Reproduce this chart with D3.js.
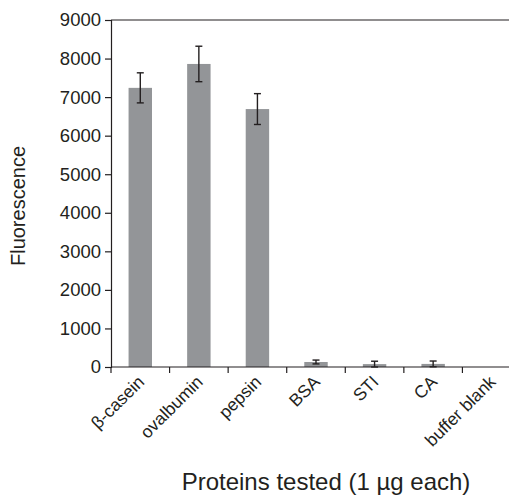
<!DOCTYPE html>
<html><head><meta charset="utf-8">
<script src="https://cdn.jsdelivr.net/npm/d3@7"></script>
<style>body{margin:0;background:#fff;} svg{display:block;}</style>
</head><body>
<svg id="c" width="509" height="495"></svg>
<script>
const categories = ["β-casein","ovalbumin","pepsin","BSA","STI","CA","buffer blank"];
const values = [7240, 7860, 6690, 130, 75, 80, 0];
const errors = [390, 460, 400, 50, 75, 75, 0];
const yTicks = [0,1000,2000,3000,4000,5000,6000,7000,8000,9000];

(function(){
const svg = d3.select("#c");
const mLeft = 111, mRight = 521, mTop = 20, mBottom = 367;
const font = "'Liberation Sans', Arial, Helvetica, sans-serif";

const x = d3.scaleBand().domain(categories).range([mLeft, mRight]).paddingInner(0.6).paddingOuter(0.3);
const y = d3.scaleLinear().domain([0, 9000]).range([mBottom, mTop]);

svg.append("line").attr("x1", mLeft).attr("x2", 509).attr("y1", y(9000)).attr("y2", y(9000))
  .attr("stroke", "#231f20").attr("stroke-width", 1.2);

svg.selectAll("rect.bar").data(categories).enter().append("rect")
  .attr("x", d => x(d)).attr("width", x.bandwidth())
  .attr("y", (d,i) => y(values[i])).attr("height", (d,i) => mBottom - y(values[i]))
  .attr("fill", "#939598");

const eb = svg.append("g").attr("stroke", "#231f20").attr("stroke-width", 1.4);
categories.forEach((c,i) => {
  if (errors[i] <= 0) return;
  const cx = x(c) + x.bandwidth()/2;
  eb.append("line").attr("x1", cx).attr("x2", cx).attr("y1", y(values[i]+errors[i])).attr("y2", y(values[i]-errors[i]));
  [values[i]+errors[i], values[i]-errors[i]].forEach(v => {
    eb.append("line").attr("x1", cx-3.5).attr("x2", cx+3.5).attr("y1", y(v)).attr("y2", y(v));
  });
});

const ya = svg.append("g").attr("transform", `translate(${mLeft},0)`)
  .call(d3.axisLeft(y).tickValues(yTicks).tickSize(6).tickPadding(4).tickFormat(d3.format("d")));
ya.select(".domain").attr("stroke", "#231f20").attr("stroke-width", 1.2);
ya.selectAll(".tick line").attr("stroke", "#231f20").attr("stroke-width", 1.2);
ya.selectAll(".tick text").attr("font-family", font).attr("font-size", 18.5).attr("fill", "#231f20");

const xa = svg.append("g").attr("transform", `translate(0,${mBottom})`);
xa.append("line").attr("x1", mLeft).attr("x2", 509).attr("y1", 0).attr("y2", 0)
  .attr("stroke", "#231f20").attr("stroke-width", 1.2);
const step = x.step();
categories.forEach((c,i) => {
  const bx = x(c) + x.bandwidth()/2 - step/2;
  xa.append("line").attr("x1", bx).attr("x2", bx).attr("y1", 0).attr("y2", 6)
    .attr("stroke", "#231f20").attr("stroke-width", 1.2);
  const cx = x(c) + x.bandwidth()/2 + 5;
  xa.append("text").text(c)
    .attr("transform", `translate(${cx},16) rotate(-45)`)
    .attr("text-anchor", "end").attr("font-family", font).attr("font-size", 17.5)
    .attr("fill", "#231f20");
});

svg.append("text").text("Proteins tested (1 µg each)")
  .attr("x", 326).attr("y", 490).attr("text-anchor", "middle")
  .attr("font-family", font).attr("font-size", 24).attr("fill", "#231f20");
svg.append("text").text("Fluorescence")
  .attr("transform", "translate(25,206) rotate(-90)").attr("text-anchor", "middle")
  .attr("font-family", font).attr("font-size", 20).attr("fill", "#231f20");
})();
</script>
</body></html>
